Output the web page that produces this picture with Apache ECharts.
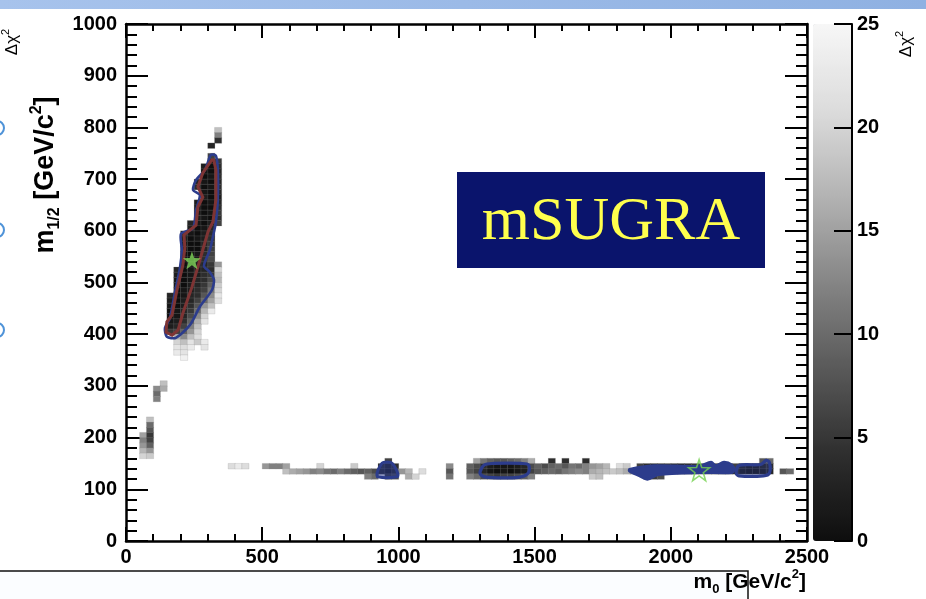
<!DOCTYPE html>
<html>
<head>
<meta charset="utf-8">
<script src="https://cdn.jsdelivr.net/npm/echarts@6/dist/echarts.min.js"></script>
<style>
html,body{margin:0;padding:0;background:#fff;}
#chart{width:926px;height:599px;}
</style>
</head>
<body>
<div id="chart"></div>
<script>
// ---- Data ----
// Bin size of the Δχ² map: m0 (GeV/c²) and m1/2 (GeV/c²)
const X_BIN = 25, Y_BIN = 10;

// Axis ticks
const xTicks = [0, 500, 1000, 1500, 2000, 2500];
const yTicks = [0, 100, 200, 300, 400, 500, 600, 700, 800, 900, 1000];
const zTicks = [0, 5, 10, 15, 20, 25];

// Δχ² cells: [m1/2 row lower edge, first m0 column lower edge, values in consecutive 25 GeV columns]
const islandRows = [
  [790, 325, [18]],
  [780, 325, [12]],
  [770, 325, [4]],
  [760, 300, [3]],
  [740, 300, [6]],
  [730, 300, [1, 5]],
  [720, 275, [2, 0, 4]],
  [710, 275, [1, 0, 3]],
  [700, 275, [0, 1, 4]],
  [690, 250, [3, 1, 0, 3]],
  [680, 250, [4, 0, 1, 4]],
  [670, 275, [1, 0, 3]],
  [660, 275, [2, 0, 2]],
  [650, 250, [2, 0, 1, 3]],
  [640, 250, [1, 0, 0, 4]],
  [630, 250, [1, 0, 1, 5]],
  [620, 250, [2, 1, 0, 4]],
  [610, 225, [3, 1, 0, 2, 6]],
  [600, 225, [2, 0, 1, 3]],
  [590, 200, [3, 1, 0, 2, 4]],
  [580, 200, [2, 0, 1, 2, 4]],
  [570, 200, [1, 0, 0, 3, 5]],
  [560, 200, [1, 0, 0, 3, 6]],
  [550, 200, [0, 0, 1, 4, 6]],
  [540, 200, [0, 0, 1, 4, 7]],
  [530, 200, [0, 0, 2, 3, 5, 14]],
  [520, 175, [3, 0, 1, 2, 3, 4, 20]],
  [510, 175, [2, 0, 1, 2, 4, 5, 18]],
  [500, 175, [1, 0, 1, 3, 4, 7, 17]],
  [490, 175, [1, 0, 2, 3, 5, 9, 19]],
  [480, 175, [0, 1, 2, 4, 6, 11, 20]],
  [470, 150, [3, 0, 1, 3, 4, 8, 13, 22]],
  [460, 150, [2, 0, 2, 3, 6, 10, 15, 21]],
  [450, 150, [1, 0, 2, 4, 8, 14, 18]],
  [440, 150, [0, 1, 3, 5, 10, 17, 23]],
  [430, 150, [0, 1, 3, 7, 13, 20]],
  [420, 150, [1, 2, 4, 9, 16, 22]],
  [410, 150, [2, 3, 6, 12, 18]],
  [400, 150, [5, 6, 9, 14, 20]],
  [390, 175, [16, 13, 18, 21]],
  [380, 175, [20, 18, 22, 19, 23]],
  [370, 175, [22, 21, 23, null, 22]],
  [360, 175, [23, 22]],
  [350, 200, [24]]
];

const lowM0Rows = [
  [300, 125, [18]],
  [290, 100, [13, 16]],
  [280, 100, [10]],
  [270, 100, [12]],
  [230, 75, [18]],
  [220, 75, [10]],
  [210, 75, [8]],
  [200, 50, [15, 5]],
  [190, 50, [12, 6]],
  [180, 50, [14, 9]],
  [170, 50, [17, 14]],
  [160, 50, [20, 19]]
];

const stripRows = [
  [150, 950, [6]],
  [150, 1275, [15, 11, 9, 8, 8, 9, 10, 12, 16]],
  [150, 1550, [4]],
  [150, 1600, [4]],
  [150, 1675, [4]],
  [150, 2325, [8, 10]],
  [140, 375, [21, 23, 21]],
  [140, 500, [14, 12, 12, 15]],
  [140, 700, [20]],
  [140, 825, [19]],
  [140, 925, [4, 2, 4]],
  [140, 1175, [13]],
  [140, 1250, [9, 7, 4, 2, 1, 1, 1, 2, 3, 7]],
  [140, 1500, [9, 7, 9, 10, 8, 11, 10, 12, 14, 15, 17, null, 21, 19]],
  [140, 1875, [6, 4, 3, 4, 5, 4, 3, 4, 5, 6, 4, 3, 4, 5, 6]],
  [140, 2250, [3, 2, 2, 3, 4]],
  [130, 575, [18, 16, 15, 14, 12, 13, 11, 10, 12, 10, 9, 8, 9, 7]],
  [130, 925, [3, 1, 3, 14, 17, null, 21]],
  [130, 1175, [8]],
  [130, 1250, [8, 6, 3, 1, 0, 1, 0, 1, 2, 6]],
  [130, 1500, [8, 9, 10, 9, 11, 12, 13, 12, 16, 17, 18, 19, 18, 16, 13]],
  [130, 1875, [3, 2, 1, 2, 3, 2, 1, 2, 3, 2, 1, 2, 3, 4, 3]],
  [130, 2250, [2, 1, 1, 2, 3]],
  [130, 2400, [8, 10]],
  [120, 875, [12, 10]],
  [120, 950, [5, 7, null, 16, 20]],
  [120, 1175, [11]],
  [120, 1250, [12, 10, 7, 6, 5, 6, 6, 7, 9, 12]],
  [120, 1700, [19, 18]],
  [120, 1900, [6, 5, 7]]
];

// Contours, [m0, m1/2]
const redContour = [
  [315, 737], [282, 712], [264, 685], [282, 665], [264, 646], [257, 611], [213, 592],
  [216, 567], [209, 534], [187, 485], [169, 437], [150, 424], [147, 404], [169, 398],
  [191, 408], [209, 441], [242, 491], [271, 543], [301, 598], [319, 617], [330, 660],
  [330, 718], [322, 737]
];
const blueContour = [
  [312, 747], [290, 718], [257, 698], [246, 679], [271, 669], [257, 640], [246, 605],
  [202, 594], [205, 563], [198, 528], [180, 482], [161, 431], [143, 412], [150, 395],
  [183, 393], [235, 418], [271, 453], [315, 485], [323, 505], [308, 520], [286, 532],
  [308, 563], [323, 598], [330, 617], [337, 660], [337, 718], [330, 745]
];
const blueBlob1 = [[922, 132], [935, 147], [945, 152], [972, 152], [985, 145], [998, 130], [995, 124], [925, 124]];
const blueRing2 = [[1300, 134], [1315, 147], [1350, 150], [1450, 150], [1478, 147], [1476, 131], [1440, 123], [1330, 123], [1305, 127]];
const blueBand3 = [
  [1848, 139], [1939, 146], [2104, 145], [2148, 153], [2165, 146], [2195, 153], [2225, 147],
  [2232, 137], [2225, 132], [2104, 132], [1954, 128], [1914, 119], [1884, 126], [1848, 135]
];
const blueRing4 = [[2240, 131], [2250, 146], [2330, 148], [2350, 156], [2362, 152], [2362, 131], [2340, 126], [2250, 126]];

// Best-fit points
const bestFitFilled = [[242, 543]];
const bestFitOpen = [[2104, 137]];

// ---- Build ----
function expand(rows) {
  const out = [];
  rows.forEach(([m12, start, vals]) => vals.forEach((v, i) => {
    if (v !== null) out.push([start + i * X_BIN, m12, v]);
  }));
  return out;
}
const cells = expand(islandRows).concat(expand(lowM0Rows), expand(stripRows));

const FONT = '"Liberation Sans", Arial, Helvetica, sans-serif';
const STAR = 'path://M0,-10L2.35,-3.24L9.51,-3.09L3.8,1.24L5.88,8.09L0,4L-5.88,8.09L-3.8,1.24L-9.51,-3.09L-2.35,-3.24Z';

function polySeries(pts, stroke, fill, width, smooth) {
  return {
    type: 'custom', coordinateSystem: 'cartesian2d', xAxisIndex: 0, yAxisIndex: 0,
    data: [pts[0]], silent: true, z: 3, clip: true,
    renderItem: function (params, api) {
      return {
        type: 'polygon',
        shape: { points: pts.map(p => api.coord(p)), smooth: smooth },
        style: { fill: fill || 'none', stroke: stroke, lineWidth: width }
      };
    }
  };
}

const axisLineStyle = { color: '#000', width: 2.5 };
const plain = v => String(v);
const labelStyle = { color: '#000', fontSize: 20, fontWeight: 'bold', fontFamily: FONT, formatter: plain };

const chart = echarts.init(document.getElementById('chart'), null, { renderer: 'canvas' });
const option = {
  animation: false,
  backgroundColor: '#fff',
  grid: [
    { left: 126, right: 119, top: 24, bottom: 58, show: false },
    { left: 813, width: 39, top: 24, bottom: 58, show: false }
  ],
  xAxis: [
    { gridIndex: 0, type: 'value', min: xTicks[0], max: xTicks[xTicks.length - 1], interval: 500, position: 'bottom',
      axisLine: { show: true, onZero: false, lineStyle: axisLineStyle },
      axisTick: { show: true, inside: true, length: 14, lineStyle: { color: '#000', width: 2 } },
      minorTick: { show: true, splitNumber: 5, length: 7, lineStyle: { color: '#000', width: 2 } },
      axisLabel: Object.assign({ margin: 6 }, labelStyle),
      splitLine: { show: false } },
    { gridIndex: 0, type: 'value', min: xTicks[0], max: xTicks[xTicks.length - 1], interval: 500, position: 'top',
      axisLine: { show: true, onZero: false, lineStyle: axisLineStyle },
      axisTick: { show: true, inside: true, length: 14, lineStyle: { color: '#000', width: 2 } },
      minorTick: { show: true, splitNumber: 5, length: 7, lineStyle: { color: '#000', width: 2 } },
      axisLabel: { show: false }, splitLine: { show: false } },
    { gridIndex: 1, type: 'value', min: 0, max: 1, show: false }
  ],
  yAxis: [
    { gridIndex: 0, type: 'value', min: yTicks[0], max: yTicks[yTicks.length - 1], interval: 100, position: 'left',
      axisLine: { show: true, onZero: false, lineStyle: axisLineStyle },
      axisTick: { show: true, inside: true, length: 22, lineStyle: { color: '#000', width: 2 } },
      minorTick: { show: true, splitNumber: 5, length: 11, lineStyle: { color: '#000', width: 2 } },
      axisLabel: Object.assign({ margin: 9 }, labelStyle),
      splitLine: { show: false } },
    { gridIndex: 0, type: 'value', min: yTicks[0], max: yTicks[yTicks.length - 1], interval: 100, position: 'right',
      axisLine: { show: true, onZero: false, lineStyle: axisLineStyle },
      axisTick: { show: true, inside: true, length: 22, lineStyle: { color: '#000', width: 2 } },
      minorTick: { show: true, splitNumber: 5, length: 11, lineStyle: { color: '#000', width: 2 } },
      axisLabel: { show: false }, splitLine: { show: false } },
    { gridIndex: 1, type: 'value', min: zTicks[0], max: zTicks[zTicks.length - 1], interval: 5, position: 'right',
      axisLine: { show: true, onZero: false, lineStyle: { color: '#000', width: 2 } },
      axisTick: { show: true, inside: true, length: 18, lineStyle: { color: '#000', width: 2 } },
      axisLabel: Object.assign({ margin: 5 }, labelStyle),
      splitLine: { show: false }, z: 10 }
  ],
  visualMap: {
    type: 'continuous', seriesIndex: 0, dimension: 2, min: 0, max: 25,
    calculable: false, realtime: false, orient: 'vertical',
    left: 813, top: 24, itemWidth: 39, itemHeight: 517, padding: 0,
    text: null, showLabel: false, hoverLink: false,
    inRange: { color: ['#0e0e0e', '#2e2e2e', '#595959', '#858585', '#b3b3b3', '#dcdcdc', '#f7f7f7'] }
  },
  series: [
    {
      type: 'custom', coordinateSystem: 'cartesian2d', xAxisIndex: 0, yAxisIndex: 0,
      dimensions: ['m0', 'm12', 'dchi2'], encode: { x: 0, y: 1 },
      data: cells, silent: true, z: 2,
      renderItem: function (params, api) {
        const a = api.coord([api.value(0), api.value(1)]);
        const b = api.coord([api.value(0) + X_BIN, api.value(1) + Y_BIN]);
        return {
          type: 'rect',
          shape: { x: a[0], y: b[1], width: b[0] - a[0] + 0.4, height: a[1] - b[1] + 0.4 },
          style: { fill: api.visual('color'), stroke: 'rgba(140,140,140,0.35)', lineWidth: 0.6 }
        };
      }
    },
    polySeries(blueContour, '#2c3c8c', null, 2.6, 0.25),
    polySeries(redContour, '#7e3434', null, 3, 0),
    polySeries(blueBlob1, '#2c3c8c', 'rgba(44,60,140,0.55)', 3, 0.35),
    polySeries(blueRing2, '#2c3c8c', null, 3.2, 0.35),
    polySeries(blueBand3, '#2c3c8c', '#2c3c8c', 2.5, 0.3),
    polySeries(blueRing4, '#2c3c8c', 'rgba(44,60,140,0.35)', 3.2, 0.3),
    {
      type: 'scatter', xAxisIndex: 0, yAxisIndex: 0, data: bestFitFilled, z: 5, silent: true,
      symbol: STAR, symbolSize: 18, itemStyle: { color: '#7fd65a' }
    },
    {
      type: 'scatter', xAxisIndex: 0, yAxisIndex: 0, data: bestFitOpen, z: 5, silent: true,
      symbol: STAR, symbolSize: 21,
      itemStyle: { color: 'rgba(0,0,0,0)', borderColor: '#74d24f', borderWidth: 1.6 }
    }
  ],
  graphic: [
    { type: 'rect', z: 0, shape: { x: 0, y: 0, width: 926, height: 9 },
      style: { fill: new echarts.graphic.LinearGradient(0, 0, 1, 0, [{ offset: 0, color: '#a7c3ec' }, { offset: 1, color: '#8fb1e2' }]) } },
    { type: 'circle', shape: { cx: -3, cy: 128, r: 7 }, style: { fill: 'none', stroke: '#4f93d8', lineWidth: 2 } },
    { type: 'circle', shape: { cx: -3, cy: 230, r: 7 }, style: { fill: 'none', stroke: '#4f93d8', lineWidth: 2 } },
    { type: 'circle', shape: { cx: -3, cy: 330, r: 7 }, style: { fill: 'none', stroke: '#4f93d8', lineWidth: 2 } },
    { type: 'rect', z: 100, shape: { x: 457, y: 172, width: 308, height: 96 }, style: { fill: '#0a146c' } },
    { type: 'text', z: 101, x: 611, y: 223,
      style: { text: 'mSUGRA', fill: '#ffff4d', fontSize: 62, fontFamily: '"Liberation Serif", "DejaVu Serif", serif', align: 'center', verticalAlign: 'middle' } },
    { type: 'text', z: 50, x: 46, y: 175, rotation: Math.PI / 2,
      style: {
        text: '{a|m}{s|1/2}{a| [GeV/c}{p|2}{a|]}', align: 'center', verticalAlign: 'middle', fill: '#000',
        rich: {
          a: { fontSize: 27, fontWeight: 'bold', fontFamily: FONT, lineHeight: 34, verticalAlign: 'middle' },
          s: { fontSize: 16, fontWeight: 'bold', fontFamily: FONT, lineHeight: 16, verticalAlign: 'bottom' },
          p: { fontSize: 16, fontWeight: 'bold', fontFamily: FONT, lineHeight: 16, verticalAlign: 'top' }
        }
      } },
    { type: 'rect', z: 40, shape: { x: -2, y: 571, width: 750, height: 40 },
      style: { fill: '#fbfdff', stroke: '#111', lineWidth: 1.5 } },
    { type: 'text', z: 50, x: 806, y: 582,
      style: {
        text: '{a|m}{s|0}{a| [GeV/c}{p|2}{a|]}', align: 'right', verticalAlign: 'middle', fill: '#000',
        rich: {
          a: { fontSize: 21, fontWeight: 'bold', fontFamily: FONT, lineHeight: 28, verticalAlign: 'middle' },
          s: { fontSize: 13, fontWeight: 'bold', fontFamily: FONT, lineHeight: 13, verticalAlign: 'bottom' },
          p: { fontSize: 13, fontWeight: 'bold', fontFamily: FONT, lineHeight: 13, verticalAlign: 'top' }
        }
      } },
    { type: 'text', z: 50, x: 906, y: 44, rotation: Math.PI / 2,
      style: {
        text: '{a|Δχ}{p|2}', align: 'center', verticalAlign: 'middle', fill: '#000',
        rich: {
          a: { fontSize: 17, fontFamily: FONT, lineHeight: 24, verticalAlign: 'middle' },
          p: { fontSize: 11, fontFamily: FONT, lineHeight: 11, verticalAlign: 'top' }
        }
      } },
    { type: 'text', z: 50, x: 12, y: 42, rotation: Math.PI / 2,
      style: {
        text: '{a|Δχ}{p|2}', align: 'center', verticalAlign: 'middle', fill: '#000',
        rich: {
          a: { fontSize: 17, fontFamily: FONT, lineHeight: 24, verticalAlign: 'middle' },
          p: { fontSize: 11, fontFamily: FONT, lineHeight: 11, verticalAlign: 'top' }
        }
      } }
  ]
};
chart.setOption(option);
</script>
</body>
</html>
